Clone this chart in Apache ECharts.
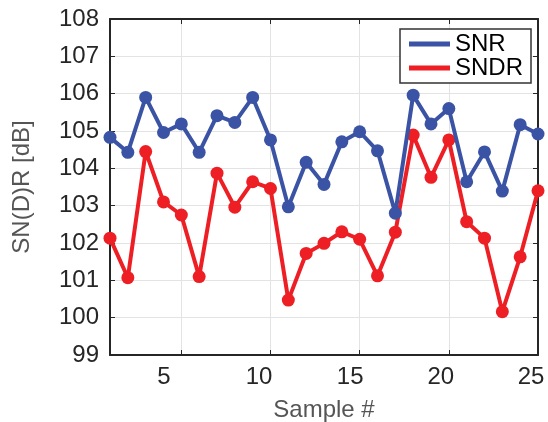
<!DOCTYPE html>
<html>
<head>
<meta charset="utf-8">
<script src="https://cdn.jsdelivr.net/npm/echarts@6/dist/echarts.min.js"></script>
<style>html,body{margin:0;padding:0;background:#fff}#c{width:548px;height:422px}</style>
</head>
<body>
<div id="c"></div>
<script>
const samples = [1,2,3,4,5,6,7,8,9,10,11,12,13,14,15,16,17,18,19,20,21,22,23,24,25];
const snr  = [104.83,104.43,105.9,104.96,105.19,104.43,105.41,105.23,105.9,104.76,102.97,104.16,103.57,104.71,104.98,104.47,102.8,105.96,105.19,105.6,103.64,104.44,103.39,105.17,104.92];
const sndr = [102.13,101.07,104.45,103.1,102.75,101.1,103.87,102.96,103.64,103.46,100.47,101.72,101.99,102.3,102.1,101.12,102.29,104.89,103.76,104.76,102.57,102.13,100.16,101.63,103.4];
const xTicks = [5,10,15,20,25];
const yMin = 99, yMax = 108;
const seriesNames = ['SNR','SNDR'];
const colors = ['#3a53a4','#ed1f24'];

const chart = echarts.init(document.getElementById('c'));
const font = 'Liberation Sans, Arial, Helvetica, sans-serif';
const mk = (vals) => samples.map((s,i)=>[s, vals[i]]);
// label nudges (px shift of label centre to the left) as in the reference
const labelShift = {5:35, 10:23, 15:19, 20:16, 25:14};
const rich = {};
Object.keys(labelShift).forEach(k => {
  rich['t'+k] = {fontFamily:font,fontSize:24,color:'#262626',padding:[0,labelShift[k],0,0]};
});
chart.setOption({
  animation:false,
  backgroundColor:'#fff',
  grid:{left:110,right:10,top:19,bottom:67,containLabel:false,outerBoundsMode:'none'},
  legend:{
    orient:'vertical', left:400, top:29,
    padding:[3,8,3,9], itemGap:0, itemWidth:41, itemHeight:5,
    borderColor:'#333', borderWidth:1.5, backgroundColor:'#fff',
    textStyle:{fontFamily:font,fontSize:24,color:'#000',lineHeight:23},
    data:[{name:'SNR',icon:'rect'},{name:'SNDR',icon:'rect'}]
  },
  xAxis:[{
    type:'value', min:1, max:25,
    name:'Sample #', nameLocation:'middle', nameGap:43,
    nameTextStyle:{fontFamily:font,fontSize:24,color:'#555'},
    axisLine:{show:true,onZero:false,lineStyle:{color:'#262626',width:2}},
    axisTick:{show:true,inside:true,length:5,customValues:xTicks,lineStyle:{color:'#262626',width:1}},
    axisLabel:{customValues:xTicks,fontFamily:font,fontSize:24,color:'#262626',margin:10,
      formatter:(v)=>'{t'+v+'|'+v+'}', rich:rich},
    splitLine:{show:true,lineStyle:{color:'#e3e3e3',width:1}}
  },{
    type:'value', min:1, max:25, position:'top',
    axisLine:{show:true,onZero:false,lineStyle:{color:'#262626',width:2}},
    axisTick:{show:true,inside:true,length:5,customValues:xTicks,lineStyle:{color:'#262626',width:1}},
    axisLabel:{show:false}, splitLine:{show:false}
  }],
  yAxis:[{
    type:'value', min:yMin, max:yMax, interval:1,
    name:'SN(D)R [dB]', nameLocation:'middle', nameGap:76,
    nameTextStyle:{fontFamily:font,fontSize:24,color:'#555'},
    axisLine:{show:true,onZero:false,lineStyle:{color:'#262626',width:2}},
    axisTick:{show:true,inside:true,length:5,lineStyle:{color:'#262626',width:1}},
    axisLabel:{fontFamily:font,fontSize:24,color:'#262626',margin:11},
    splitLine:{show:true,lineStyle:{color:'#e3e3e3',width:1}}
  },{
    type:'value', min:yMin, max:yMax, interval:1, position:'right',
    axisLine:{show:true,onZero:false,lineStyle:{color:'#262626',width:2}},
    axisTick:{show:true,inside:true,length:5,lineStyle:{color:'#262626',width:1}},
    axisLabel:{show:false}, splitLine:{show:false}
  }],
  series:[
    {name:seriesNames[0],type:'line',data:mk(snr),symbol:'circle',symbolSize:13,
     itemStyle:{color:colors[0]},lineStyle:{color:colors[0],width:4},z:3},
    {name:seriesNames[1],type:'line',data:mk(sndr),symbol:'circle',symbolSize:13,
     itemStyle:{color:colors[1]},lineStyle:{color:colors[1],width:4},z:2}
  ]
});
</script>
</body>
</html>
